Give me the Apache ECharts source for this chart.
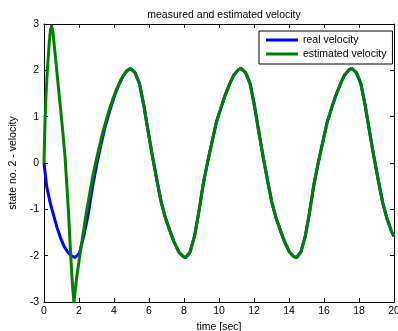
<!DOCTYPE html>
<html>
<head>
<meta charset="utf-8">
<script src="https://cdn.jsdelivr.net/npm/echarts@6/dist/echarts.min.js"></script>
<style>
html,body{margin:0;padding:0;background:#fff;}
#chart{width:398px;height:331px;}
</style>
</head>
<body>
<div id="chart"></div>
<script>
// Real velocity (time, value)
var realT = [0,0.15,0.35,0.55,0.75,0.95,1.15,1.35,1.55,1.77,2.02,2.27,2.52,2.77,3.02,3.27,3.52,3.77,4.02,4.27,4.52,4.77,4.95,
  5.2,5.45,5.7,5.95,6.2,6.45,6.7,6.95,7.2,7.45,7.7,7.95,8.1,
  8.35,8.6,8.85,9.1,9.35,9.6,9.85,10.1,10.35,10.6,10.85,11.1,11.27,
  11.52,11.77,12.02,12.27,12.52,12.77,13.02,13.27,13.52,13.77,14.02,14.27,14.43,
  14.68,14.93,15.18,15.43,15.68,15.93,16.18,16.43,16.68,16.93,17.18,17.43,17.6,
  17.85,18.1,18.35,18.6,18.85,19.1,19.35,19.6,19.85,20];
var realV = [0,-0.5,-0.85,-1.13,-1.4,-1.62,-1.8,-1.92,-2.0,-2.04,-1.95,-1.58,-1.12,-0.52,-0.02,0.42,0.82,1.14,1.44,1.68,1.88,2.0,2.04,
  1.95,1.72,1.25,0.68,0.14,-0.37,-0.85,-1.2,-1.47,-1.72,-1.92,-2.02,-2.04,
  -1.92,-1.58,-1.05,-0.45,0.02,0.45,0.88,1.18,1.46,1.7,1.9,2.01,2.04,
  1.95,1.72,1.25,0.68,0.14,-0.37,-0.85,-1.2,-1.47,-1.72,-1.92,-2.02,-2.04,
  -1.92,-1.58,-1.05,-0.45,0.02,0.45,0.88,1.18,1.46,1.7,1.9,2.01,2.04,
  1.95,1.72,1.25,0.68,0.14,-0.37,-0.85,-1.2,-1.47,-1.58];
// Estimated velocity: initial transient, then it follows the real curve from t = 4.95
var estEarlyT = [0,0.03,0.06,0.12,0.19,0.3,0.37,0.44,0.52,0.63,0.82,1.01,1.2,1.39,1.52,1.62,1.71,1.87,2.15,2.44,2.82,3.1,3.4,3.77,4.1,4.4,4.7];
var estEarlyV = [0,0.5,0.93,1.5,2.0,2.6,2.88,2.96,2.8,2.37,1.65,0.93,0.15,-1.0,-1.95,-2.6,-3.0,-2.46,-1.73,-1.02,-0.22,0.25,0.72,1.2,1.55,1.8,1.98];
var xTicks = [0,2,4,6,8,10,12,14,16,18,20];
var yTicks = [-3,-2,-1,0,1,2,3];
var seriesNames = ['real velocity','estimated velocity'];
var titleText = 'measured and estimated velocity';
var xName = 'time [sec]';
var yName = 'state no. 2 - velocity';

var splitIdx = realT.indexOf(4.95);
var estT = estEarlyT.concat(realT.slice(splitIdx));
var estV = estEarlyV.concat(realV.slice(splitIdx));
function pairs(t, v){ return t.map(function(x,i){ return [x, v[i]]; }); }

var FONT = 'Liberation Sans, Arial, Helvetica, sans-serif';
var FS = 10.5;
var chart = echarts.init(document.getElementById('chart'), null, {renderer:'canvas'});
var axisCommon = {
  axisLine:{show:true, onZero:false, lineStyle:{color:'#000', width:1}},
  axisTick:{show:true, inside:true, length:4, lineStyle:{color:'#000'}},
  splitLine:{show:false}
};
chart.setOption({
  animation:false,
  backgroundColor:'#fff',
  textStyle:{fontFamily:FONT},
  title:{text:titleText, left:219, top:5, textAlign:'center',
    textStyle:{fontSize:FS, fontWeight:'normal', color:'#000', fontFamily:FONT}},
  grid:{left:44, right:4, top:24, bottom:29, containLabel:false, outerBoundsMode:'none'},
  legend:{
    orient:'vertical', left:259, top:31,
    data:[{name:seriesNames[0], icon:'rect'},{name:seriesNames[1], icon:'rect'}],
    itemWidth:32, itemHeight:3, itemGap:0,
    backgroundColor:'#fff', borderColor:'#000', borderWidth:1,
    padding:[2,6,3,7],
    textStyle:{fontSize:FS, color:'#000', lineHeight:14, fontFamily:FONT}
  },
  xAxis:[
    Object.assign({type:'value', position:'bottom', min:xTicks[0], max:xTicks[xTicks.length-1], interval:2,
      name:xName, nameLocation:'middle', nameGap:16,
      nameTextStyle:{fontSize:FS, color:'#000', fontFamily:FONT},
      axisLabel:{fontSize:FS, color:'#000', margin:4, showMinLabel:true, showMaxLabel:true, fontFamily:FONT}}, axisCommon),
    Object.assign({type:'value', position:'top', min:xTicks[0], max:xTicks[xTicks.length-1], interval:2,
      axisLabel:{show:false}}, axisCommon)
  ],
  yAxis:[
    Object.assign({type:'value', position:'left', min:yTicks[0], max:yTicks[yTicks.length-1], interval:1,
      name:yName, nameLocation:'middle', nameGap:17, nameRotate:90,
      nameTextStyle:{fontSize:FS, color:'#000', fontFamily:FONT},
      axisLabel:{fontSize:FS, color:'#000', margin:5, showMinLabel:true, showMaxLabel:true, fontFamily:FONT}}, axisCommon),
    Object.assign({type:'value', position:'right', min:yTicks[0], max:yTicks[yTicks.length-1], interval:1,
      axisLabel:{show:false}}, axisCommon)
  ],
  series:[
    {name:seriesNames[0], type:'line', xAxisIndex:0, yAxisIndex:0, data:pairs(realT, realV),
      showSymbol:false, symbol:'none', smooth:false, clip:true,
      lineStyle:{color:'#0000ff', width:3, join:'round'}, itemStyle:{color:'#0000ff'}},
    {name:seriesNames[1], type:'line', xAxisIndex:0, yAxisIndex:0, data:pairs(estT, estV),
      showSymbol:false, symbol:'none', smooth:false, clip:true,
      lineStyle:{color:'#008000', width:3, join:'round'}, itemStyle:{color:'#008000'}}
  ]
});
</script>
</body>
</html>
